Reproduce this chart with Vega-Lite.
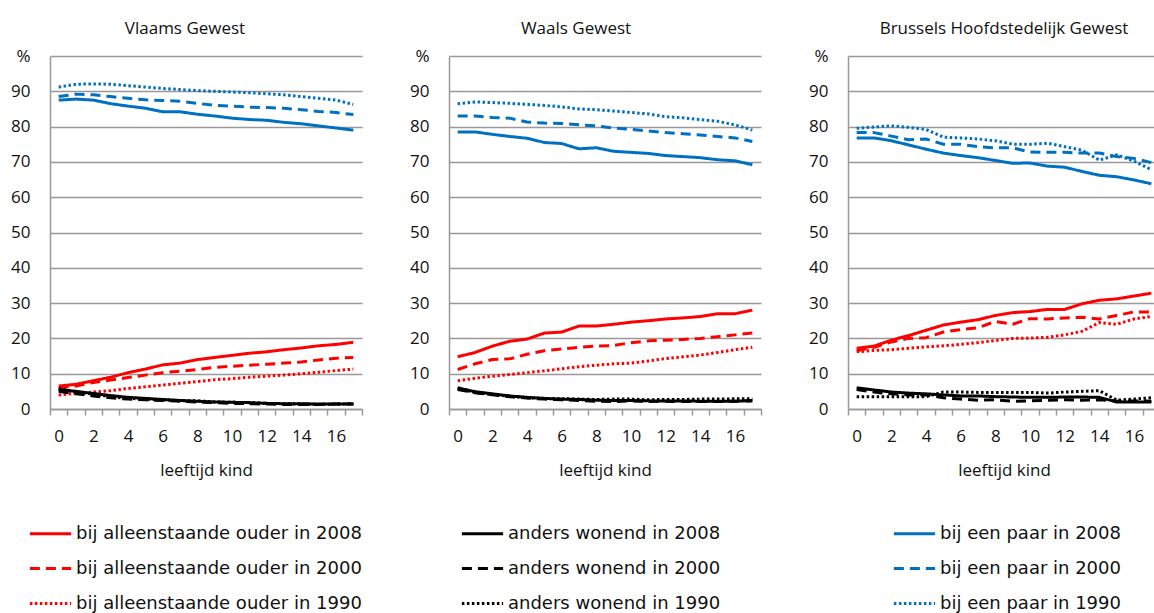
{
  "$schema": "https://vega.github.io/schema/vega-lite/v6.json",
  "padding": {"left": 8, "top": 20, "right": 0, "bottom": 0},
  "autosize": {"type": "pad"},
  "background": "white",
  "config": {
    "view": {"stroke": null},
    "font": "Open Sans",
    "concat": {"spacing": 44},
    "title": {"font": "Open Sans", "fontSize": 17, "fontWeight": "normal", "color": "#111", "offset": 9},
    "axis": {
      "labelFont": "Open Sans", "labelFontSize": 17, "labelColor": "#111",
      "titleFont": "Open Sans", "titleFontSize": 17, "titleFontWeight": "normal", "titleColor": "#111",
      "domainColor": "#999", "domainWidth": 1.5, "tickColor": "#999", "tickWidth": 1.5,
      "gridColor": "#999", "gridWidth": 1.5
    },
    "legend": {
      "orient": "none", "legendX": -22, "legendY": 455,
      "direction": "horizontal", "columns": 3, "gridAlign": "all", "columnPadding": 93, "rowPadding": 3,
      "symbolType": "stroke", "symbolSize": 1700, "symbolStrokeWidth": 3,
      "labelFont": "DejaVu Sans", "labelFontSize": 18, "labelColor": "#111", "labelLimit": 500, "labelOffset": 3,
      "title": null
    }
  },
  "datasets": {
    "V": [
      {"reeks":"paar2008","lft":0,"pct":87.5},{"reeks":"paar2008","lft":1,"pct":87.8},{"reeks":"paar2008","lft":2,"pct":87.5},{"reeks":"paar2008","lft":3,"pct":86.5},{"reeks":"paar2008","lft":4,"pct":85.8},{"reeks":"paar2008","lft":5,"pct":85.2},{"reeks":"paar2008","lft":6,"pct":84.2},{"reeks":"paar2008","lft":7,"pct":84.2},{"reeks":"paar2008","lft":8,"pct":83.5},{"reeks":"paar2008","lft":9,"pct":83},{"reeks":"paar2008","lft":10,"pct":82.4},{"reeks":"paar2008","lft":11,"pct":82},{"reeks":"paar2008","lft":12,"pct":81.8},{"reeks":"paar2008","lft":13,"pct":81.2},{"reeks":"paar2008","lft":14,"pct":80.8},{"reeks":"paar2008","lft":15,"pct":80.2},{"reeks":"paar2008","lft":16,"pct":79.6},{"reeks":"paar2008","lft":17,"pct":79},
      {"reeks":"paar2000","lft":0,"pct":88.5},{"reeks":"paar2000","lft":1,"pct":89.2},{"reeks":"paar2000","lft":2,"pct":89},{"reeks":"paar2000","lft":3,"pct":88.5},{"reeks":"paar2000","lft":4,"pct":88},{"reeks":"paar2000","lft":5,"pct":87.6},{"reeks":"paar2000","lft":6,"pct":87.4},{"reeks":"paar2000","lft":7,"pct":87.2},{"reeks":"paar2000","lft":8,"pct":86.6},{"reeks":"paar2000","lft":9,"pct":86},{"reeks":"paar2000","lft":10,"pct":85.8},{"reeks":"paar2000","lft":11,"pct":85.5},{"reeks":"paar2000","lft":12,"pct":85.4},{"reeks":"paar2000","lft":13,"pct":85.2},{"reeks":"paar2000","lft":14,"pct":84.8},{"reeks":"paar2000","lft":15,"pct":84.3},{"reeks":"paar2000","lft":16,"pct":84},{"reeks":"paar2000","lft":17,"pct":83.4},
      {"reeks":"paar1990","lft":0,"pct":91.2},{"reeks":"paar1990","lft":1,"pct":92},{"reeks":"paar1990","lft":2,"pct":92.1},{"reeks":"paar1990","lft":3,"pct":92},{"reeks":"paar1990","lft":4,"pct":91.6},{"reeks":"paar1990","lft":5,"pct":91.2},{"reeks":"paar1990","lft":6,"pct":90.8},{"reeks":"paar1990","lft":7,"pct":90.5},{"reeks":"paar1990","lft":8,"pct":90.2},{"reeks":"paar1990","lft":9,"pct":90},{"reeks":"paar1990","lft":10,"pct":89.8},{"reeks":"paar1990","lft":11,"pct":89.6},{"reeks":"paar1990","lft":12,"pct":89.3},{"reeks":"paar1990","lft":13,"pct":89},{"reeks":"paar1990","lft":14,"pct":88.5},{"reeks":"paar1990","lft":15,"pct":88},{"reeks":"paar1990","lft":16,"pct":87.5},{"reeks":"paar1990","lft":17,"pct":86.3},
      {"reeks":"ouder2008","lft":0,"pct":6.5},{"reeks":"ouder2008","lft":1,"pct":7},{"reeks":"ouder2008","lft":2,"pct":8},{"reeks":"ouder2008","lft":3,"pct":9},{"reeks":"ouder2008","lft":4,"pct":10.3},{"reeks":"ouder2008","lft":5,"pct":11.3},{"reeks":"ouder2008","lft":6,"pct":12.5},{"reeks":"ouder2008","lft":7,"pct":13},{"reeks":"ouder2008","lft":8,"pct":14},{"reeks":"ouder2008","lft":9,"pct":14.6},{"reeks":"ouder2008","lft":10,"pct":15.2},{"reeks":"ouder2008","lft":11,"pct":15.8},{"reeks":"ouder2008","lft":12,"pct":16.2},{"reeks":"ouder2008","lft":13,"pct":16.8},{"reeks":"ouder2008","lft":14,"pct":17.3},{"reeks":"ouder2008","lft":15,"pct":17.9},{"reeks":"ouder2008","lft":16,"pct":18.3},{"reeks":"ouder2008","lft":17,"pct":18.9},
      {"reeks":"ouder2000","lft":0,"pct":6},{"reeks":"ouder2000","lft":1,"pct":6.5},{"reeks":"ouder2000","lft":2,"pct":7.5},{"reeks":"ouder2000","lft":3,"pct":8.2},{"reeks":"ouder2000","lft":4,"pct":8.9},{"reeks":"ouder2000","lft":5,"pct":9.6},{"reeks":"ouder2000","lft":6,"pct":10.3},{"reeks":"ouder2000","lft":7,"pct":10.7},{"reeks":"ouder2000","lft":8,"pct":11.2},{"reeks":"ouder2000","lft":9,"pct":11.8},{"reeks":"ouder2000","lft":10,"pct":12.1},{"reeks":"ouder2000","lft":11,"pct":12.4},{"reeks":"ouder2000","lft":12,"pct":12.7},{"reeks":"ouder2000","lft":13,"pct":13},{"reeks":"ouder2000","lft":14,"pct":13.3},{"reeks":"ouder2000","lft":15,"pct":13.9},{"reeks":"ouder2000","lft":16,"pct":14.4},{"reeks":"ouder2000","lft":17,"pct":14.6},
      {"reeks":"ouder1990","lft":0,"pct":4},{"reeks":"ouder1990","lft":1,"pct":4.4},{"reeks":"ouder1990","lft":2,"pct":4.8},{"reeks":"ouder1990","lft":3,"pct":5.2},{"reeks":"ouder1990","lft":4,"pct":5.8},{"reeks":"ouder1990","lft":5,"pct":6.3},{"reeks":"ouder1990","lft":6,"pct":6.8},{"reeks":"ouder1990","lft":7,"pct":7.3},{"reeks":"ouder1990","lft":8,"pct":7.8},{"reeks":"ouder1990","lft":9,"pct":8.3},{"reeks":"ouder1990","lft":10,"pct":8.6},{"reeks":"ouder1990","lft":11,"pct":9},{"reeks":"ouder1990","lft":12,"pct":9.3},{"reeks":"ouder1990","lft":13,"pct":9.6},{"reeks":"ouder1990","lft":14,"pct":10},{"reeks":"ouder1990","lft":15,"pct":10.4},{"reeks":"ouder1990","lft":16,"pct":10.9},{"reeks":"ouder1990","lft":17,"pct":11.3},
      {"reeks":"anders2008","lft":0,"pct":5.5},{"reeks":"anders2008","lft":1,"pct":5},{"reeks":"anders2008","lft":2,"pct":4.4},{"reeks":"anders2008","lft":3,"pct":3.8},{"reeks":"anders2008","lft":4,"pct":3.3},{"reeks":"anders2008","lft":5,"pct":3},{"reeks":"anders2008","lft":6,"pct":2.7},{"reeks":"anders2008","lft":7,"pct":2.4},{"reeks":"anders2008","lft":8,"pct":2.2},{"reeks":"anders2008","lft":9,"pct":2},{"reeks":"anders2008","lft":10,"pct":1.9},{"reeks":"anders2008","lft":11,"pct":1.8},{"reeks":"anders2008","lft":12,"pct":1.6},{"reeks":"anders2008","lft":13,"pct":1.5},{"reeks":"anders2008","lft":14,"pct":1.5},{"reeks":"anders2008","lft":15,"pct":1.4},{"reeks":"anders2008","lft":16,"pct":1.4},{"reeks":"anders2008","lft":17,"pct":1.4},
      {"reeks":"anders2000","lft":0,"pct":5},{"reeks":"anders2000","lft":1,"pct":4.3},{"reeks":"anders2000","lft":2,"pct":3.7},{"reeks":"anders2000","lft":3,"pct":3.2},{"reeks":"anders2000","lft":4,"pct":2.8},{"reeks":"anders2000","lft":5,"pct":2.6},{"reeks":"anders2000","lft":6,"pct":2.4},{"reeks":"anders2000","lft":7,"pct":2.2},{"reeks":"anders2000","lft":8,"pct":2},{"reeks":"anders2000","lft":9,"pct":1.8},{"reeks":"anders2000","lft":10,"pct":1.6},{"reeks":"anders2000","lft":11,"pct":1.5},{"reeks":"anders2000","lft":12,"pct":1.4},{"reeks":"anders2000","lft":13,"pct":1.3},{"reeks":"anders2000","lft":14,"pct":1.3},{"reeks":"anders2000","lft":15,"pct":1.3},{"reeks":"anders2000","lft":16,"pct":1.4},{"reeks":"anders2000","lft":17,"pct":1.4},
      {"reeks":"anders1990","lft":0,"pct":5.8},{"reeks":"anders1990","lft":1,"pct":4.8},{"reeks":"anders1990","lft":2,"pct":4.2},{"reeks":"anders1990","lft":3,"pct":3.5},{"reeks":"anders1990","lft":4,"pct":3},{"reeks":"anders1990","lft":5,"pct":2.8},{"reeks":"anders1990","lft":6,"pct":2.6},{"reeks":"anders1990","lft":7,"pct":2.4},{"reeks":"anders1990","lft":8,"pct":2.3},{"reeks":"anders1990","lft":9,"pct":2},{"reeks":"anders1990","lft":10,"pct":1.9},{"reeks":"anders1990","lft":11,"pct":1.8},{"reeks":"anders1990","lft":12,"pct":1.6},{"reeks":"anders1990","lft":13,"pct":1.5},{"reeks":"anders1990","lft":14,"pct":1.4},{"reeks":"anders1990","lft":15,"pct":1.3},{"reeks":"anders1990","lft":16,"pct":1.4},{"reeks":"anders1990","lft":17,"pct":1.5}
    ],
    "W": [
      {"reeks":"paar2008","lft":0,"pct":78.5},{"reeks":"paar2008","lft":1,"pct":78.5},{"reeks":"paar2008","lft":2,"pct":77.8},{"reeks":"paar2008","lft":3,"pct":77.2},{"reeks":"paar2008","lft":4,"pct":76.7},{"reeks":"paar2008","lft":5,"pct":75.5},{"reeks":"paar2008","lft":6,"pct":75.2},{"reeks":"paar2008","lft":7,"pct":73.7},{"reeks":"paar2008","lft":8,"pct":74},{"reeks":"paar2008","lft":9,"pct":73},{"reeks":"paar2008","lft":10,"pct":72.7},{"reeks":"paar2008","lft":11,"pct":72.4},{"reeks":"paar2008","lft":12,"pct":71.8},{"reeks":"paar2008","lft":13,"pct":71.5},{"reeks":"paar2008","lft":14,"pct":71.2},{"reeks":"paar2008","lft":15,"pct":70.6},{"reeks":"paar2008","lft":16,"pct":70.3},{"reeks":"paar2008","lft":17,"pct":69.2},
      {"reeks":"paar2000","lft":0,"pct":83},{"reeks":"paar2000","lft":1,"pct":83},{"reeks":"paar2000","lft":2,"pct":82.6},{"reeks":"paar2000","lft":3,"pct":82.4},{"reeks":"paar2000","lft":4,"pct":81.3},{"reeks":"paar2000","lft":5,"pct":81},{"reeks":"paar2000","lft":6,"pct":80.9},{"reeks":"paar2000","lft":7,"pct":80.5},{"reeks":"paar2000","lft":8,"pct":80.2},{"reeks":"paar2000","lft":9,"pct":79.6},{"reeks":"paar2000","lft":10,"pct":79.2},{"reeks":"paar2000","lft":11,"pct":78.8},{"reeks":"paar2000","lft":12,"pct":78.3},{"reeks":"paar2000","lft":13,"pct":78},{"reeks":"paar2000","lft":14,"pct":77.6},{"reeks":"paar2000","lft":15,"pct":77.2},{"reeks":"paar2000","lft":16,"pct":76.8},{"reeks":"paar2000","lft":17,"pct":75.8},
      {"reeks":"paar1990","lft":0,"pct":86.5},{"reeks":"paar1990","lft":1,"pct":87},{"reeks":"paar1990","lft":2,"pct":86.8},{"reeks":"paar1990","lft":3,"pct":86.6},{"reeks":"paar1990","lft":4,"pct":86.3},{"reeks":"paar1990","lft":5,"pct":86},{"reeks":"paar1990","lft":6,"pct":85.6},{"reeks":"paar1990","lft":7,"pct":85},{"reeks":"paar1990","lft":8,"pct":84.8},{"reeks":"paar1990","lft":9,"pct":84.4},{"reeks":"paar1990","lft":10,"pct":84},{"reeks":"paar1990","lft":11,"pct":83.6},{"reeks":"paar1990","lft":12,"pct":82.8},{"reeks":"paar1990","lft":13,"pct":82.5},{"reeks":"paar1990","lft":14,"pct":82},{"reeks":"paar1990","lft":15,"pct":81.5},{"reeks":"paar1990","lft":16,"pct":80.5},{"reeks":"paar1990","lft":17,"pct":79},
      {"reeks":"ouder2008","lft":0,"pct":14.8},{"reeks":"ouder2008","lft":1,"pct":16},{"reeks":"ouder2008","lft":2,"pct":17.8},{"reeks":"ouder2008","lft":3,"pct":19.2},{"reeks":"ouder2008","lft":4,"pct":19.8},{"reeks":"ouder2008","lft":5,"pct":21.5},{"reeks":"ouder2008","lft":6,"pct":21.8},{"reeks":"ouder2008","lft":7,"pct":23.5},{"reeks":"ouder2008","lft":8,"pct":23.5},{"reeks":"ouder2008","lft":9,"pct":24},{"reeks":"ouder2008","lft":10,"pct":24.6},{"reeks":"ouder2008","lft":11,"pct":25},{"reeks":"ouder2008","lft":12,"pct":25.5},{"reeks":"ouder2008","lft":13,"pct":25.8},{"reeks":"ouder2008","lft":14,"pct":26.2},{"reeks":"ouder2008","lft":15,"pct":27},{"reeks":"ouder2008","lft":16,"pct":27},{"reeks":"ouder2008","lft":17,"pct":28},
      {"reeks":"ouder2000","lft":0,"pct":11.2},{"reeks":"ouder2000","lft":1,"pct":12.8},{"reeks":"ouder2000","lft":2,"pct":14},{"reeks":"ouder2000","lft":3,"pct":14.2},{"reeks":"ouder2000","lft":4,"pct":15.5},{"reeks":"ouder2000","lft":5,"pct":16.5},{"reeks":"ouder2000","lft":6,"pct":17},{"reeks":"ouder2000","lft":7,"pct":17.5},{"reeks":"ouder2000","lft":8,"pct":17.8},{"reeks":"ouder2000","lft":9,"pct":18},{"reeks":"ouder2000","lft":10,"pct":18.8},{"reeks":"ouder2000","lft":11,"pct":19.3},{"reeks":"ouder2000","lft":12,"pct":19.5},{"reeks":"ouder2000","lft":13,"pct":19.7},{"reeks":"ouder2000","lft":14,"pct":20},{"reeks":"ouder2000","lft":15,"pct":20.5},{"reeks":"ouder2000","lft":16,"pct":21},{"reeks":"ouder2000","lft":17,"pct":21.5},
      {"reeks":"ouder1990","lft":0,"pct":8},{"reeks":"ouder1990","lft":1,"pct":8.7},{"reeks":"ouder1990","lft":2,"pct":9.3},{"reeks":"ouder1990","lft":3,"pct":9.8},{"reeks":"ouder1990","lft":4,"pct":10.3},{"reeks":"ouder1990","lft":5,"pct":10.8},{"reeks":"ouder1990","lft":6,"pct":11.4},{"reeks":"ouder1990","lft":7,"pct":12},{"reeks":"ouder1990","lft":8,"pct":12.4},{"reeks":"ouder1990","lft":9,"pct":12.8},{"reeks":"ouder1990","lft":10,"pct":13},{"reeks":"ouder1990","lft":11,"pct":13.6},{"reeks":"ouder1990","lft":12,"pct":14.3},{"reeks":"ouder1990","lft":13,"pct":14.8},{"reeks":"ouder1990","lft":14,"pct":15.3},{"reeks":"ouder1990","lft":15,"pct":16},{"reeks":"ouder1990","lft":16,"pct":16.8},{"reeks":"ouder1990","lft":17,"pct":17.5},
      {"reeks":"anders2008","lft":0,"pct":6},{"reeks":"anders2008","lft":1,"pct":4.9},{"reeks":"anders2008","lft":2,"pct":4.3},{"reeks":"anders2008","lft":3,"pct":3.7},{"reeks":"anders2008","lft":4,"pct":3.3},{"reeks":"anders2008","lft":5,"pct":3},{"reeks":"anders2008","lft":6,"pct":2.8},{"reeks":"anders2008","lft":7,"pct":2.7},{"reeks":"anders2008","lft":8,"pct":2.5},{"reeks":"anders2008","lft":9,"pct":2.4},{"reeks":"anders2008","lft":10,"pct":2.4},{"reeks":"anders2008","lft":11,"pct":2.3},{"reeks":"anders2008","lft":12,"pct":2.3},{"reeks":"anders2008","lft":13,"pct":2.3},{"reeks":"anders2008","lft":14,"pct":2.2},{"reeks":"anders2008","lft":15,"pct":2.2},{"reeks":"anders2008","lft":16,"pct":2.2},{"reeks":"anders2008","lft":17,"pct":2.4},
      {"reeks":"anders2000","lft":0,"pct":5.5},{"reeks":"anders2000","lft":1,"pct":4.6},{"reeks":"anders2000","lft":2,"pct":4},{"reeks":"anders2000","lft":3,"pct":3.5},{"reeks":"anders2000","lft":4,"pct":3.1},{"reeks":"anders2000","lft":5,"pct":2.8},{"reeks":"anders2000","lft":6,"pct":2.6},{"reeks":"anders2000","lft":7,"pct":2.4},{"reeks":"anders2000","lft":8,"pct":2.2},{"reeks":"anders2000","lft":9,"pct":2.1},{"reeks":"anders2000","lft":10,"pct":2.3},{"reeks":"anders2000","lft":11,"pct":2.1},{"reeks":"anders2000","lft":12,"pct":2.2},{"reeks":"anders2000","lft":13,"pct":2.1},{"reeks":"anders2000","lft":14,"pct":2.1},{"reeks":"anders2000","lft":15,"pct":2.1},{"reeks":"anders2000","lft":16,"pct":2.2},{"reeks":"anders2000","lft":17,"pct":2.3},
      {"reeks":"anders1990","lft":0,"pct":5.8},{"reeks":"anders1990","lft":1,"pct":4.7},{"reeks":"anders1990","lft":2,"pct":4.1},{"reeks":"anders1990","lft":3,"pct":3.6},{"reeks":"anders1990","lft":4,"pct":3.2},{"reeks":"anders1990","lft":5,"pct":3},{"reeks":"anders1990","lft":6,"pct":2.9},{"reeks":"anders1990","lft":7,"pct":2.8},{"reeks":"anders1990","lft":8,"pct":2.7},{"reeks":"anders1990","lft":9,"pct":2.8},{"reeks":"anders1990","lft":10,"pct":2.8},{"reeks":"anders1990","lft":11,"pct":2.6},{"reeks":"anders1990","lft":12,"pct":2.7},{"reeks":"anders1990","lft":13,"pct":2.7},{"reeks":"anders1990","lft":14,"pct":2.8},{"reeks":"anders1990","lft":15,"pct":2.8},{"reeks":"anders1990","lft":16,"pct":2.9},{"reeks":"anders1990","lft":17,"pct":2.9}
    ],
    "B": [
      {"reeks":"paar2008","lft":0,"pct":76.8},{"reeks":"paar2008","lft":1,"pct":76.8},{"reeks":"paar2008","lft":2,"pct":76},{"reeks":"paar2008","lft":3,"pct":74.8},{"reeks":"paar2008","lft":4,"pct":73.6},{"reeks":"paar2008","lft":5,"pct":72.5},{"reeks":"paar2008","lft":6,"pct":71.8},{"reeks":"paar2008","lft":7,"pct":71.2},{"reeks":"paar2008","lft":8,"pct":70.4},{"reeks":"paar2008","lft":9,"pct":69.6},{"reeks":"paar2008","lft":10,"pct":69.7},{"reeks":"paar2008","lft":11,"pct":68.8},{"reeks":"paar2008","lft":12,"pct":68.5},{"reeks":"paar2008","lft":13,"pct":67.3},{"reeks":"paar2008","lft":14,"pct":66.2},{"reeks":"paar2008","lft":15,"pct":65.8},{"reeks":"paar2008","lft":16,"pct":64.9},{"reeks":"paar2008","lft":17,"pct":63.8},
      {"reeks":"paar2000","lft":0,"pct":78.3},{"reeks":"paar2000","lft":1,"pct":78.3},{"reeks":"paar2000","lft":2,"pct":77.3},{"reeks":"paar2000","lft":3,"pct":76.3},{"reeks":"paar2000","lft":4,"pct":76.5},{"reeks":"paar2000","lft":5,"pct":75},{"reeks":"paar2000","lft":6,"pct":75},{"reeks":"paar2000","lft":7,"pct":74.3},{"reeks":"paar2000","lft":8,"pct":74},{"reeks":"paar2000","lft":9,"pct":74},{"reeks":"paar2000","lft":10,"pct":72.8},{"reeks":"paar2000","lft":11,"pct":72.7},{"reeks":"paar2000","lft":12,"pct":72.7},{"reeks":"paar2000","lft":13,"pct":72.5},{"reeks":"paar2000","lft":14,"pct":72.5},{"reeks":"paar2000","lft":15,"pct":71.5},{"reeks":"paar2000","lft":16,"pct":71},{"reeks":"paar2000","lft":17,"pct":69.8},
      {"reeks":"paar1990","lft":0,"pct":79.5},{"reeks":"paar1990","lft":1,"pct":79.9},{"reeks":"paar1990","lft":2,"pct":80.2},{"reeks":"paar1990","lft":3,"pct":79.8},{"reeks":"paar1990","lft":4,"pct":79.2},{"reeks":"paar1990","lft":5,"pct":77},{"reeks":"paar1990","lft":6,"pct":76.8},{"reeks":"paar1990","lft":7,"pct":76.5},{"reeks":"paar1990","lft":8,"pct":76},{"reeks":"paar1990","lft":9,"pct":75},{"reeks":"paar1990","lft":10,"pct":75},{"reeks":"paar1990","lft":11,"pct":75.3},{"reeks":"paar1990","lft":12,"pct":74.3},{"reeks":"paar1990","lft":13,"pct":73.3},{"reeks":"paar1990","lft":14,"pct":70.5},{"reeks":"paar1990","lft":15,"pct":72},{"reeks":"paar1990","lft":16,"pct":70.2},{"reeks":"paar1990","lft":17,"pct":67.8},
      {"reeks":"ouder2008","lft":0,"pct":17.2},{"reeks":"ouder2008","lft":1,"pct":17.8},{"reeks":"ouder2008","lft":2,"pct":19.5},{"reeks":"ouder2008","lft":3,"pct":20.8},{"reeks":"ouder2008","lft":4,"pct":22.3},{"reeks":"ouder2008","lft":5,"pct":23.8},{"reeks":"ouder2008","lft":6,"pct":24.6},{"reeks":"ouder2008","lft":7,"pct":25.3},{"reeks":"ouder2008","lft":8,"pct":26.5},{"reeks":"ouder2008","lft":9,"pct":27.3},{"reeks":"ouder2008","lft":10,"pct":27.6},{"reeks":"ouder2008","lft":11,"pct":28.2},{"reeks":"ouder2008","lft":12,"pct":28.2},{"reeks":"ouder2008","lft":13,"pct":29.8},{"reeks":"ouder2008","lft":14,"pct":30.8},{"reeks":"ouder2008","lft":15,"pct":31.2},{"reeks":"ouder2008","lft":16,"pct":32},{"reeks":"ouder2008","lft":17,"pct":32.8},
      {"reeks":"ouder2000","lft":0,"pct":16.5},{"reeks":"ouder2000","lft":1,"pct":17.5},{"reeks":"ouder2000","lft":2,"pct":19},{"reeks":"ouder2000","lft":3,"pct":20},{"reeks":"ouder2000","lft":4,"pct":20.2},{"reeks":"ouder2000","lft":5,"pct":21.8},{"reeks":"ouder2000","lft":6,"pct":22.5},{"reeks":"ouder2000","lft":7,"pct":23},{"reeks":"ouder2000","lft":8,"pct":24.8},{"reeks":"ouder2000","lft":9,"pct":24},{"reeks":"ouder2000","lft":10,"pct":25.6},{"reeks":"ouder2000","lft":11,"pct":25.5},{"reeks":"ouder2000","lft":12,"pct":25.8},{"reeks":"ouder2000","lft":13,"pct":26},{"reeks":"ouder2000","lft":14,"pct":25.5},{"reeks":"ouder2000","lft":15,"pct":26.5},{"reeks":"ouder2000","lft":16,"pct":27.5},{"reeks":"ouder2000","lft":17,"pct":27.5},
      {"reeks":"ouder1990","lft":0,"pct":16.2},{"reeks":"ouder1990","lft":1,"pct":16.6},{"reeks":"ouder1990","lft":2,"pct":16.8},{"reeks":"ouder1990","lft":3,"pct":17.2},{"reeks":"ouder1990","lft":4,"pct":17.6},{"reeks":"ouder1990","lft":5,"pct":17.9},{"reeks":"ouder1990","lft":6,"pct":18.3},{"reeks":"ouder1990","lft":7,"pct":18.8},{"reeks":"ouder1990","lft":8,"pct":19.4},{"reeks":"ouder1990","lft":9,"pct":20},{"reeks":"ouder1990","lft":10,"pct":20.1},{"reeks":"ouder1990","lft":11,"pct":20.3},{"reeks":"ouder1990","lft":12,"pct":21},{"reeks":"ouder1990","lft":13,"pct":22},{"reeks":"ouder1990","lft":14,"pct":24.5},{"reeks":"ouder1990","lft":15,"pct":24},{"reeks":"ouder1990","lft":16,"pct":25.5},{"reeks":"ouder1990","lft":17,"pct":26.2},
      {"reeks":"anders2008","lft":0,"pct":6},{"reeks":"anders2008","lft":1,"pct":5.4},{"reeks":"anders2008","lft":2,"pct":4.8},{"reeks":"anders2008","lft":3,"pct":4.5},{"reeks":"anders2008","lft":4,"pct":4.3},{"reeks":"anders2008","lft":5,"pct":4},{"reeks":"anders2008","lft":6,"pct":3.7},{"reeks":"anders2008","lft":7,"pct":3.7},{"reeks":"anders2008","lft":8,"pct":3.5},{"reeks":"anders2008","lft":9,"pct":3.4},{"reeks":"anders2008","lft":10,"pct":3.3},{"reeks":"anders2008","lft":11,"pct":3.3},{"reeks":"anders2008","lft":12,"pct":3.4},{"reeks":"anders2008","lft":13,"pct":3.4},{"reeks":"anders2008","lft":14,"pct":3.3},{"reeks":"anders2008","lft":15,"pct":2},{"reeks":"anders2008","lft":16,"pct":2},{"reeks":"anders2008","lft":17,"pct":2},
      {"reeks":"anders2000","lft":0,"pct":5.5},{"reeks":"anders2000","lft":1,"pct":4.8},{"reeks":"anders2000","lft":2,"pct":4.3},{"reeks":"anders2000","lft":3,"pct":4},{"reeks":"anders2000","lft":4,"pct":4},{"reeks":"anders2000","lft":5,"pct":3.2},{"reeks":"anders2000","lft":6,"pct":2.8},{"reeks":"anders2000","lft":7,"pct":2.5},{"reeks":"anders2000","lft":8,"pct":2.6},{"reeks":"anders2000","lft":9,"pct":2.2},{"reeks":"anders2000","lft":10,"pct":2.3},{"reeks":"anders2000","lft":11,"pct":2.5},{"reeks":"anders2000","lft":12,"pct":2.6},{"reeks":"anders2000","lft":13,"pct":2.5},{"reeks":"anders2000","lft":14,"pct":2.6},{"reeks":"anders2000","lft":15,"pct":2.2},{"reeks":"anders2000","lft":16,"pct":2.3},{"reeks":"anders2000","lft":17,"pct":2.2},
      {"reeks":"anders1990","lft":0,"pct":3.5},{"reeks":"anders1990","lft":1,"pct":3.5},{"reeks":"anders1990","lft":2,"pct":3.5},{"reeks":"anders1990","lft":3,"pct":3.5},{"reeks":"anders1990","lft":4,"pct":3.5},{"reeks":"anders1990","lft":5,"pct":4.8},{"reeks":"anders1990","lft":6,"pct":4.8},{"reeks":"anders1990","lft":7,"pct":4.7},{"reeks":"anders1990","lft":8,"pct":4.7},{"reeks":"anders1990","lft":9,"pct":4.7},{"reeks":"anders1990","lft":10,"pct":4.7},{"reeks":"anders1990","lft":11,"pct":4.5},{"reeks":"anders1990","lft":12,"pct":4.8},{"reeks":"anders1990","lft":13,"pct":5},{"reeks":"anders1990","lft":14,"pct":5.2},{"reeks":"anders1990","lft":15,"pct":2.5},{"reeks":"anders1990","lft":16,"pct":2.8},{"reeks":"anders1990","lft":17,"pct":3.2}
    ]
  },
  "resolve": {"scale": {"color": "shared", "strokeDash": "shared"}, "legend": {"color": "shared", "strokeDash": "shared"}},
  "hconcat": [
    {
      "title": {"text": "Vlaams Gewest", "dx": -21},
      "width": 312, "height": 353,
      "data": {"name": "V"},
      "mark": {"type": "line", "strokeWidth": 3, "strokeCap": "butt", "strokeJoin": "round"},
      "encoding": {
        "x": {"field": "lft", "type": "ordinal", "bandPosition": 0.5, "scale": {"type": "band", "paddingInner": 0, "paddingOuter": 0},
              "axis": {"title": "leeftijd kind", "labelAngle": 0, "tickBand": "extent", "grid": false, "tickSize": 6, "labelPadding": 13, "titlePadding": 18,
                       "labelExpr": "datum.value % 2 == 0 ? datum.label : ''"}},
        "y": {"field": "pct", "type": "quantitative", "scale": {"domain": [0, 100], "nice": false},
              "axis": {"title": null, "values": [0,10,20,30,40,50,60,70,80,90,100], "ticks": false, "labelPadding": 20, "minExtent": 42, "maxExtent": 42,
                       "labelExpr": "datum.value == 100 ? '%' : datum.label"}},
        "color": {"field": "reeks", "type": "nominal",
                  "scale": {"domain": ["ouder2008","anders2008","paar2008","ouder2000","anders2000","paar2000","ouder1990","anders1990","paar1990"],
                            "range": ["#FF0000","#000000","#0070C0","#FF0000","#000000","#0070C0","#FF0000","#000000","#0070C0"]},
                  "legend": {"labelExpr": "replace(replace(replace(datum.label,'ouder','bij alleenstaande ouder in '),'anders','anders wonend in '),'paar','bij een paar in ')"}},
        "strokeDash": {"field": "reeks", "type": "nominal",
                  "scale": {"domain": ["ouder2008","anders2008","paar2008","ouder2000","anders2000","paar2000","ouder1990","anders1990","paar1990"],
                            "range": [[1,0],[1,0],[1,0],[10,6],[10,6],[10,6],[2.5,2.5],[2.5,2.5],[2.5,2.5]]},
                  "legend": {"labelExpr": "replace(replace(replace(datum.label,'ouder','bij alleenstaande ouder in '),'anders','anders wonend in '),'paar','bij een paar in ')"}}
      }
    },
    {
      "title": {"text": "Waals Gewest", "dx": -29},
      "width": 312, "height": 353,
      "data": {"name": "W"},
      "mark": {"type": "line", "strokeWidth": 3, "strokeCap": "butt", "strokeJoin": "round"},
      "encoding": {
        "x": {"field": "lft", "type": "ordinal", "bandPosition": 0.5, "scale": {"type": "band", "paddingInner": 0, "paddingOuter": 0},
              "axis": {"title": "leeftijd kind", "labelAngle": 0, "tickBand": "extent", "grid": false, "tickSize": 6, "labelPadding": 13, "titlePadding": 18,
                       "labelExpr": "datum.value % 2 == 0 ? datum.label : ''"}},
        "y": {"field": "pct", "type": "quantitative", "scale": {"domain": [0, 100], "nice": false},
              "axis": {"title": null, "values": [0,10,20,30,40,50,60,70,80,90,100], "ticks": false, "labelPadding": 20, "minExtent": 42, "maxExtent": 42,
                       "labelExpr": "datum.value == 100 ? '%' : datum.label"}},
        "color": {"field": "reeks", "type": "nominal",
                  "scale": {"domain": ["ouder2008","anders2008","paar2008","ouder2000","anders2000","paar2000","ouder1990","anders1990","paar1990"],
                            "range": ["#FF0000","#000000","#0070C0","#FF0000","#000000","#0070C0","#FF0000","#000000","#0070C0"]},
                  "legend": {"labelExpr": "replace(replace(replace(datum.label,'ouder','bij alleenstaande ouder in '),'anders','anders wonend in '),'paar','bij een paar in ')"}},
        "strokeDash": {"field": "reeks", "type": "nominal",
                  "scale": {"domain": ["ouder2008","anders2008","paar2008","ouder2000","anders2000","paar2000","ouder1990","anders1990","paar1990"],
                            "range": [[1,0],[1,0],[1,0],[10,6],[10,6],[10,6],[2.5,2.5],[2.5,2.5],[2.5,2.5]]},
                  "legend": {"labelExpr": "replace(replace(replace(datum.label,'ouder','bij alleenstaande ouder in '),'anders','anders wonend in '),'paar','bij een paar in ')"}}
      }
    },
    {
      "title": {"text": "Brussels Hoofdstedelijk Gewest", "dx": 0},
      "width": 312, "height": 353,
      "data": {"name": "B"},
      "mark": {"type": "line", "strokeWidth": 3, "strokeCap": "butt", "strokeJoin": "round"},
      "encoding": {
        "x": {"field": "lft", "type": "ordinal", "bandPosition": 0.5, "scale": {"type": "band", "paddingInner": 0, "paddingOuter": 0},
              "axis": {"title": "leeftijd kind", "labelAngle": 0, "tickBand": "extent", "grid": false, "tickSize": 6, "labelPadding": 13, "titlePadding": 18,
                       "labelExpr": "datum.value % 2 == 0 ? datum.label : ''"}},
        "y": {"field": "pct", "type": "quantitative", "scale": {"domain": [0, 100], "nice": false},
              "axis": {"title": null, "values": [0,10,20,30,40,50,60,70,80,90,100], "ticks": false, "labelPadding": 20, "minExtent": 42, "maxExtent": 42,
                       "labelExpr": "datum.value == 100 ? '%' : datum.label"}},
        "color": {"field": "reeks", "type": "nominal",
                  "scale": {"domain": ["ouder2008","anders2008","paar2008","ouder2000","anders2000","paar2000","ouder1990","anders1990","paar1990"],
                            "range": ["#FF0000","#000000","#0070C0","#FF0000","#000000","#0070C0","#FF0000","#000000","#0070C0"]},
                  "legend": {"labelExpr": "replace(replace(replace(datum.label,'ouder','bij alleenstaande ouder in '),'anders','anders wonend in '),'paar','bij een paar in ')"}},
        "strokeDash": {"field": "reeks", "type": "nominal",
                  "scale": {"domain": ["ouder2008","anders2008","paar2008","ouder2000","anders2000","paar2000","ouder1990","anders1990","paar1990"],
                            "range": [[1,0],[1,0],[1,0],[10,6],[10,6],[10,6],[2.5,2.5],[2.5,2.5],[2.5,2.5]]},
                  "legend": {"labelExpr": "replace(replace(replace(datum.label,'ouder','bij alleenstaande ouder in '),'anders','anders wonend in '),'paar','bij een paar in ')"}}
      }
    }
  ]
}
